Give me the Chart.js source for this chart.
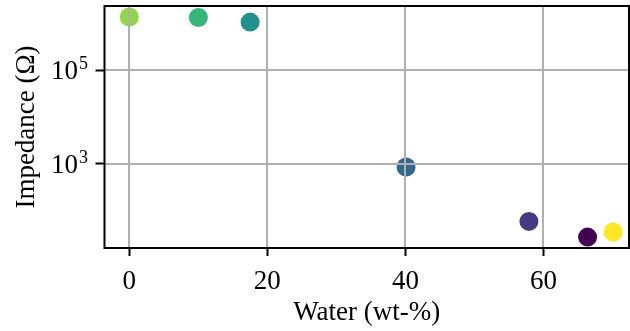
<!DOCTYPE html>
<html>
<head>
<meta charset="utf-8">
<script src="https://cdn.jsdelivr.net/npm/chart.js@4/dist/chart.umd.min.js"></script>
<style>
  html, body { margin: 0; padding: 0; background: #fff; }
  #wrap { width: 630px; height: 331px; }
</style>
</head>
<body>
<div id="wrap"><canvas id="chart" width="630" height="331"></canvas></div>
<script>
// water content (wt-%) and measured impedance (ohm)
const water = [0, 10, 17.5, 40.1, 57.9, 66.4, 70.1];
const impedance = [1.39e6, 1.35e6, 1.08e6, 845, 58, 26.7, 34.2];
const pointColors = ['#8fd744', '#35b779', '#21918c', '#31688e', '#443983', '#440154', '#fde725'];

const xTicks = [0, 20, 40, 60];
const yTicks = [1e3, 1e5];
const yTickExps = ['3', '5'];

const SERIF = '"Liberation Serif", "Times New Roman", serif';
const GRID = '#b0b0b0';
const FS = 27;

// grid goes on top of the markers, then the black frame
const gridOnTop = {
  id: 'gridOnTop',
  afterDatasetsDraw(chart) {
    const { ctx, chartArea: a, scales: { x, y } } = chart;
    ctx.save();
    ctx.strokeStyle = GRID;
    ctx.lineWidth = 2;
    ctx.beginPath();
    xTicks.forEach(v => {
      const px = Math.round(x.getPixelForValue(v));
      ctx.moveTo(px, a.top); ctx.lineTo(px, a.bottom);
    });
    yTicks.forEach(v => {
      const py = Math.round(y.getPixelForValue(v));
      ctx.moveTo(a.left, py); ctx.lineTo(a.right, py);
    });
    ctx.stroke();
    ctx.strokeStyle = '#000';
    ctx.lineWidth = 2;
    ctx.strokeRect(a.left, a.top, a.right - a.left, a.bottom - a.top);
    ctx.restore();
  },
  afterDraw(chart) {
    // y tick labels as 10 with a raised exponent
    const { ctx, scales: { y } } = chart;
    ctx.save();
    ctx.fillStyle = '#000';
    ctx.textBaseline = 'alphabetic';
    ctx.textAlign = 'left';
    yTicks.forEach((v, i) => {
      const py = y.getPixelForValue(v);
      ctx.font = FS + 'px ' + SERIF;
      const bw = ctx.measureText('10').width;
      const x0 = 51;
      ctx.fillText('10', x0, py + 9);
      ctx.font = '18px ' + SERIF;
      ctx.fillText(yTickExps[i], x0 + bw + 1, py - 1);
    });
    ctx.restore();
  }
};

const noPadX = s => { s.height = 83; s.paddingLeft = 0; s.paddingRight = 0; };
const noPadY = s => { s.width = 104.5; s.paddingTop = 0; s.paddingBottom = 0; };

new Chart(document.getElementById('chart'), {
  type: 'scatter',
  data: {
    datasets: [{
      data: water.map((w, i) => ({ x: w, y: impedance[i] })),
      backgroundColor: pointColors,
      borderWidth: 0,
      pointRadius: 9.5,
      pointHoverRadius: 9.5
    }]
  },
  options: {
    responsive: false,
    animation: false,
    events: [],
    layout: { autoPadding: false, padding: { top: 6, right: 1, left: 0, bottom: 0 } },
    plugins: { legend: { display: false }, tooltip: { enabled: false } },
    scales: {
      x: {
        type: 'linear',
        min: -3.6,
        max: 72.4,
        afterBuildTicks: s => { s.ticks = xTicks.map(v => ({ value: v })); },
        afterFit: noPadX,
        border: { display: false },
        grid: { drawOnChartArea: false, drawTicks: true, tickLength: 8, tickWidth: 2, tickColor: '#000' },
        ticks: { color: '#000', font: { family: SERIF, size: FS }, padding: 10, maxRotation: 0 },
        title: { display: true, text: 'Water (wt-%)', color: '#000', font: { family: SERIF, size: FS }, padding: { top: 0, bottom: 2 } }
      },
      y: {
        type: 'logarithmic',
        min: 15.6,
        max: 2.39e6,
        afterBuildTicks: s => { s.ticks = yTicks.map(v => ({ value: v })); },
        afterFit: noPadY,
        border: { display: false },
        grid: { drawOnChartArea: false, drawTicks: true, tickLength: 9, tickWidth: 2, tickColor: '#000' },
        ticks: { callback: () => '', font: { family: SERIF, size: FS } },
        title: { display: true, text: 'Impedance (Ω)', color: '#000', font: { family: SERIF, size: FS }, padding: { top: 11, bottom: 0 } }
      }
    }
  },
  plugins: [gridOnTop]
});
</script>
</body>
</html>
